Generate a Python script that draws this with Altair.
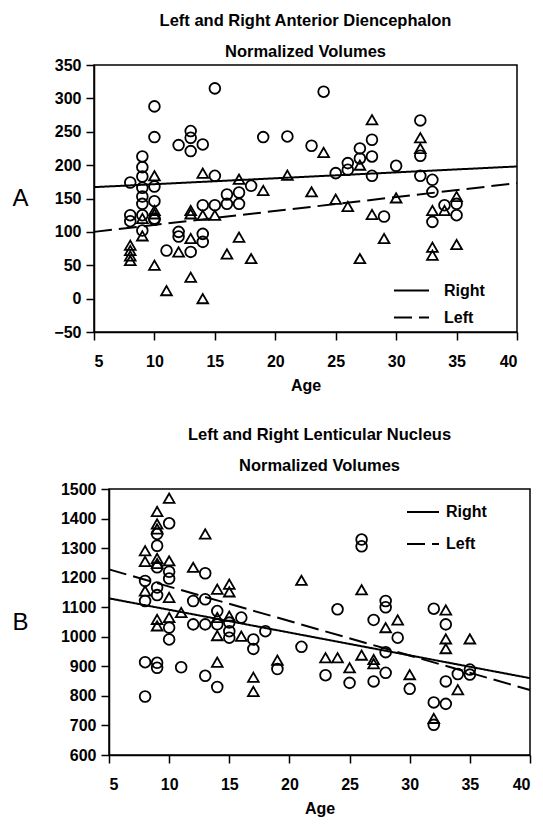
import altair as alt
import pandas as pd

FONT = "Liberation Sans"

# ---------------- Panel A : Anterior Diencephalon ----------------
A_RIGHT_AGE = [8, 8, 8, 9, 9, 9, 9, 9, 9, 9, 9, 10, 10, 10, 10, 10, 10, 11, 12, 12, 12,
               13, 13, 13, 13, 14, 14, 14, 14, 15, 15, 15, 16, 16, 17, 17, 18, 19, 21, 23,
               24, 25, 26, 26, 27, 27, 28, 28, 28, 29, 30, 32, 32, 32, 33, 33, 33, 34, 35, 35]
A_RIGHT_VAL = [174, 125, 116, 213, 197, 183, 166, 153, 142, 125, 102, 288, 242, 168, 146, 120, 118,
               72, 230, 100, 93, 251, 241, 221, 70, 231, 140, 97, 85, 315, 184, 140, 156, 142,
               159, 142, 169, 242, 243, 229, 310, 188, 203, 193, 225, 210, 238, 213, 184, 123,
               199, 267, 214, 184, 178, 160, 115, 140, 142, 125]
A_LEFT_AGE = [8, 8, 8, 8, 9, 9, 10, 10, 10, 10, 11, 12, 13, 13, 13, 13, 14, 14, 14, 15, 16,
              17, 17, 18, 19, 21, 23, 24, 25, 26, 27, 27, 28, 28, 29, 30, 32, 32, 33, 33, 33,
              34, 35, 35]
A_LEFT_VAL = [80, 72, 64, 57, 120, 94, 184, 132, 127, 50, 12, 70, 132, 127, 90, 32, 188, 125, 0,
              125, 67, 179, 92, 60, 162, 185, 160, 219, 149, 138, 200, 60, 268, 126, 90, 151,
              241, 225, 132, 77, 65, 132, 153, 81]
A_FIT_AGE = [5, 40]
A_FIT_RIGHT = [167, 198]
A_FIT_LEFT = [100, 173]

# ---------------- Panel B : Lenticular Nucleus ----------------
B_RIGHT_AGE = [8, 8, 8, 8, 9, 9, 9, 9, 9, 9, 9, 10, 10, 10, 10, 10, 11, 12, 12, 13, 13, 13, 13,
               14, 14, 14, 15, 15, 15, 16, 17, 17, 18, 19, 21, 23, 24, 25, 26, 26, 27, 27,
               28, 28, 28, 28, 29, 30, 32, 32, 32, 33, 33, 33, 34, 35, 35]
B_RIGHT_VAL = [1189, 1121, 914, 798, 1348, 1308, 1235, 1167, 1141, 912, 895, 1384, 1220, 1197,
               1031, 991, 897, 1121, 1042, 1215, 1127, 1042, 868, 1087, 1042, 830, 1048, 1019,
               997, 1065, 991, 959, 1019, 891, 966, 870, 1093, 844, 1329, 1306, 1057, 849,
               1121, 1100, 948, 878, 997, 824, 1095, 778, 702, 1042, 849, 773, 874, 889, 872]
B_LEFT_AGE = [8, 8, 8, 9, 9, 9, 9, 9, 9, 9, 10, 10, 10, 10, 11, 12, 13, 14, 14, 14, 14, 15, 15,
              15, 16, 17, 17, 19, 21, 23, 24, 25, 26, 26, 27, 27, 28, 29, 30, 32, 33, 33, 33,
              34, 35]
B_LEFT_VAL = [1291, 1255, 1155, 1424, 1382, 1365, 1265, 1248, 1059, 1037, 1469, 1257, 1133,
              1065, 1082, 1235, 1348, 1161, 1065, 1004, 914, 1178, 1152, 1070, 1002, 863, 815,
              921, 1191, 929, 929, 895, 1159, 938, 923, 909, 1031, 1057, 872, 724, 1091, 993,
              960, 821, 993]
B_FIT_AGE = [5, 40]
B_FIT_RIGHT = [1130, 860]
B_FIT_LEFT = [1228, 820]

SIDES = ["Right", "Left"]


def panel(label, title_lines, r_age, r_val, l_age, l_val, fit_age, fit_r, fit_l,
          ydom, ystep, width, height, leg_x, leg_y, row_pad, sym_len, lab_off,
          title_x, title_offset):
    pts = pd.concat([
        pd.DataFrame({"age": r_age, "value": r_val, "marker": "Right"}),
        pd.DataFrame({"age": l_age, "value": l_val, "marker": "Left"}),
    ])
    fits = pd.concat([
        pd.DataFrame({"age": fit_age, "value": fit_r, "side": "Right"}),
        pd.DataFrame({"age": fit_age, "value": fit_l, "side": "Left"}),
    ])
    x = alt.X("age:Q", scale=alt.Scale(domain=[5, 40], nice=False),
              axis=alt.Axis(values=list(range(5, 41, 5)), title="Age",
                            labelPadding=13, titlePadding=8))
    y = alt.Y("value:Q", scale=alt.Scale(domain=ydom, nice=False, zero=False),
              axis=alt.Axis(values=list(range(ydom[0], ydom[1] + 1, ystep)), format="d",
                            title=label, titleAngle=0, titleFontSize=24,
                            titleFontWeight="normal", titleAlign="center",
                            titleBaseline="middle", titleX=title_x, titleY=height / 2,
                            labelPadding=5))
    points = alt.Chart(pts).mark_point(filled=False, color="black", size=115,
                                       strokeWidth=1.8, opacity=1).encode(
        x=x, y=y,
        shape=alt.Shape("marker:N", scale=alt.Scale(domain=SIDES,
                                                    range=["circle", "triangle-up"]),
                        legend=None),
    )
    lines = alt.Chart(fits).mark_line(color="black", strokeWidth=2).encode(
        x=x, y=y,
        strokeDash=alt.StrokeDash(
            "side:N",
            scale=alt.Scale(domain=SIDES, range=[[1, 0], [18, 7]]),
            legend=alt.Legend(title=None, orient="none", legendX=leg_x, legendY=leg_y,
                              symbolType="stroke", symbolSize=sym_len ** 2,
                              symbolStrokeWidth=2, symbolStrokeColor="black",
                              labelFontSize=16, labelFont=FONT, labelFontWeight="bold",
                              labelColor="black", rowPadding=row_pad,
                              labelOffset=lab_off, padding=0),
        ),
    )
    return alt.layer(points, lines).properties(
        width=width, height=height,
        title=alt.TitleParams(text=title_lines, fontSize=16.5, font=FONT,
                              fontWeight="bold", lineHeight=31, anchor="middle",
                              frame="group", offset=title_offset, color="black"),
    ).resolve_legend(strokeDash="independent", shape="independent")


def spacer():
    return alt.Chart(pd.DataFrame({"v": [0]})).mark_point(
        opacity=0, size=0, strokeWidth=0
    ).properties(width=1, height=1, view=alt.ViewBackground(stroke="transparent"))


chart_a = panel("A", ["Left and Right Anterior Diencephalon", "Normalized Volumes"],
                A_RIGHT_AGE, A_RIGHT_VAL, A_LEFT_AGE, A_LEFT_VAL,
                A_FIT_AGE, A_FIT_RIGHT, A_FIT_LEFT,
                [-50, 350], 50, 423, 267, 299, 207, -3, 35, 14, -74, -3)
chart_b = panel("B", ["Left and Right Lenticular Nucleus", "Normalized Volumes"],
                B_RIGHT_AGE, B_RIGHT_VAL, B_LEFT_AGE, B_LEFT_VAL,
                B_FIT_AGE, B_FIT_RIGHT, B_FIT_LEFT,
                [600, 1500], 100, 421, 266, 297, 6, 7, 32, 6, -89, 7)

row_a = alt.hconcat(spacer(), chart_a, spacing=0).resolve_scale(
    strokeDash="independent", shape="independent").resolve_legend(
    strokeDash="independent", shape="independent")
row_b = alt.hconcat(spacer(), chart_b, spacing=0).resolve_scale(
    strokeDash="independent", shape="independent").resolve_legend(
    strokeDash="independent", shape="independent")

chart = alt.vconcat(row_a, row_b, spacing=31).resolve_scale(
    strokeDash="independent", shape="independent"
).resolve_legend(
    strokeDash="independent", shape="independent"
).properties(
    padding={"top": 3, "left": 0, "right": 0, "bottom": 0}
).configure_view(
    stroke="black", strokeWidth=1.5
).configure_axis(
    grid=False, domainColor="black", domainWidth=1.5, tickColor="black",
    tickWidth=1.5, tickSize=8, labelColor="black", titleColor="black",
    labelFont=FONT, titleFont=FONT, labelFontSize=16, titleFontSize=16,
    labelFontWeight="bold", titleFontWeight="bold"
)

chart.save("out.html", embed_options={"renderer": "svg", "actions": False})
